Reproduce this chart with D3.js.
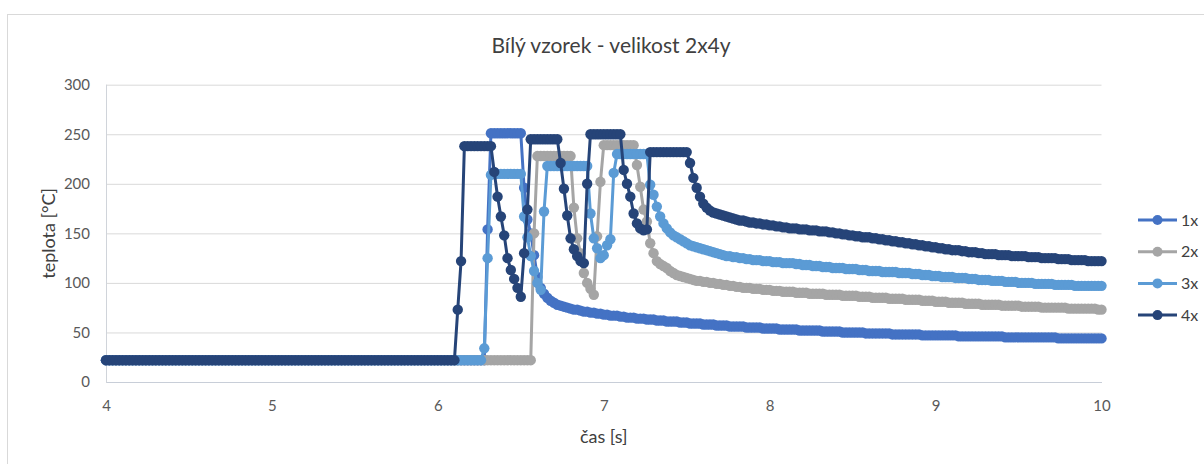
<!DOCTYPE html>
<html>
<head>
<meta charset="utf-8">
<title>Bílý vzorek - velikost 2x4y</title>
<script src="https://cdn.jsdelivr.net/npm/d3@7"></script>
<style>
  body { margin: 0; background: #fff; }
  svg { display: block; font-family: Lato, 'Open Sans', sans-serif; }
  .osa text { fill: #595959; font-size: 15px; font-family: Lato, sans-serif; }
  .mrizka line { stroke: #d9d9d9; stroke-width: 1px; }
  .popisek { fill: #404040; }
</style>
</head>
<body>
<svg id="graf" width="1204" height="464"></svg>
<script>
// --- data (teplota ve °C, vzorkovano po 0.02 s od 4 s do 10 s) ---
var casOd = 4, casKrok = 0.02;

// 4.00 - 5.98 s, vsechny rady stejne
var pocatek = [
  22,22,22,22,22,22,22,22,22,22, 22,22,22,22,22,22,22,22,22,22,
  22,22,22,22,22,22,22,22,22,22, 22,22,22,22,22,22,22,22,22,22,
  22,22,22,22,22,22,22,22,22,22, 22,22,22,22,22,22,22,22,22,22,
  22,22,22,22,22,22,22,22,22,22, 22,22,22,22,22,22,22,22,22,22,
  22,22,22,22,22,22,22,22,22,22, 22,22,22,22,22,22,22,22,22,22
];

var rada1x = pocatek.concat([
  // 6.00 - 7.80
  22,22,22,22,22, 22,22,22,22,22, 22,22,22,22,22,
  154,251,251,251,251, 251,251,251,251,251,
  251,196,164,150,128, 106,95,89,85,82,
  80,78,77,76,75, 74,73,73,72,71,
  71,70,70,69,69, 68,68,67,67,67,
  66,66,65,65,65, 64,64,64,63,63,
  63,62,62,62,61, 61,61,61,60,60,
  60,59,59,59,59, 58,58,58,58,57,
  57,57,57,56,56, 56,
  // 7.82 - 10.00
  56,56,55,55,55,55,
  55,54,54,54,54,54,53,53,53,53,
  53,53,52,52,52,52,52,52,52,51,
  51,51,51,51,51,50,50,50,50,50,
  50,50,49,49,49,49,49,49,49,49,
  48,48,48,48,48,48,48,48,48,47,
  47,47,47,47,47,47,47,47,47,47,
  46,46,46,46,46,46,46,46,46,46,
  46,46,46,46,45,45,45,45,45,45,
  45,45,45,45,45,45,45,45,45,45,
  44,44,44,44,44,44,44,44,44,44,
  44,44,44,44
]);

var rada2x = pocatek.concat([
  22,22,22,22,22, 22,22,22,22,22, 22,22,22,22,22, 22,22,22,22,22, 22,22,22,22,22,
  22,22,22,22,150,
  228,228,228,228,228, 228,228,228,228,228,
  228,176,145,130,110, 100,94,88,147,202,
  239,239,239,239,239, 239,239,239,239,239,
  219,197,174,162,140, 130,122,119,117,115,
  112,110,108,107,106, 105,104,103,102,102,
  101,101,100,100,99, 99,98,98,97,97,
  96,
  96,95,95,95,94,94,
  94,93,93,93,92,92,92,91,91,91,
  91,90,90,90,90,89,89,89,89,89,
  88,88,88,88,88,87,87,87,87,87,
  86,86,86,86,85,85,85,85,85,84,
  84,84,84,84,83,83,83,83,83,82,
  82,82,82,81,81,81,81,80,80,80,
  80,80,79,79,79,79,79,78,78,78,
  78,78,78,77,77,77,77,77,77,76,
  76,76,76,76,76,75,75,75,75,75,
  75,75,75,74,74,74,74,74,74,74,
  74,74,73,73
]);

var rada3x = pocatek.concat([
  22,22,22,22,22, 22,22,22,22,22,
  22,22,22,22,34,
  125,209,210,210,210, 210,210,210,210,210,
  210,167,146,127,112, 100,93,172,218,218,
  218,218,218,218,218, 218,218,218,218,218,
  218,170,145,135,125, 128,138,144,211,230,
  230,230,230,230,230, 230,230,230,230,199,
  189,177,167,160,155, 151,148,146,144,142,
  140,138,137,136,135, 134,133,132,131,130,
  129,128,127,127,126, 126,
  125,125,124,124,123,123,
  123,122,122,122,121,121,121,120,120,120,
  120,119,119,118,118,118,117,117,117,116,
  116,116,115,115,115,115,114,114,114,114,
  113,113,113,112,112,112,112,111,111,111,
  111,111,110,110,110,110,109,109,109,108,
  108,108,107,107,107,106,106,106,106,105,
  105,105,105,104,104,104,103,103,103,103,
  102,102,102,102,101,101,101,101,100,100,
  100,100,100,99,99,99,99,99,99,98,
  98,98,98,98,98,97,97,97,97,97,
  97,97,97,97
]);

var rada4x = pocatek.concat([
  22,22,22,22,22, 22,73,122,238,238,
  238,238,238,238,238, 238,238,212,187,167,
  148,125,113,104,95, 86,130,174,245,245,
  245,245,245,245,245, 245,245,221,195,168,
  145,134,127,122,120, 200,250,250,250,250,
  250,250,250,250,250, 250,214,200,187,170,
  160,155,153,154,232, 232,232,232,232,232,
  232,232,232,232,232, 232,221,206,196,187,
  180,176,173,171,170, 169,168,167,166,165,
  164,
  163,163,162,161,161,160,
  160,159,159,158,158,157,157,156,156,155,
  155,155,154,154,154,153,153,153,152,152,
  152,151,151,150,150,149,149,148,148,147,
  147,146,146,146,145,145,144,144,143,143,
  142,142,141,141,140,140,139,139,138,138,
  137,137,136,136,135,135,134,134,133,133,
  133,132,132,131,131,131,130,130,129,129,
  129,129,128,128,128,128,127,127,127,127,
  127,126,126,126,126,125,125,125,125,125,
  124,124,124,124,123,123,123,123,123,122,
  122,122,122,122
]);

var nazvyRad = ["1x", "2x", "3x", "4x"];
var barvyRad = ["#4472C4", "#A5A5A5", "#5B9BD5", "#264478"];
var tickyY = [0, 50, 100, 150, 200, 250, 300];
var tickyX = [4, 5, 6, 7, 8, 9, 10];

// --- kresleni ---
var svg = d3.select("#graf");
var levo = 106, pravo = 1101.5, nahore = 84.7, dole = 382;

var x = d3.scaleLinear().domain([4, 10]).range([levo, pravo]);
var y = d3.scaleLinear().domain([0, 300]).range([dole, nahore]);

var cas = d3.range(rada1x.length).map(function(i) { return casOd + i * casKrok; });
var rady = [rada1x, rada2x, rada3x, rada4x].map(function(r, k) {
  return { nazev: nazvyRad[k], barva: barvyRad[k],
           body: r.map(function(v, i) { return { t: cas[i], v: v }; }) };
});

// ramecek grafu
svg.append("rect")
    .attr("x", 7.5).attr("y", 14.5)
    .attr("width", 1300).attr("height", 500)
    .attr("fill", "none").attr("stroke", "#d9d9d9");

svg.append("text")
    .attr("x", 611).attr("y", 53)
    .attr("text-anchor", "middle")
    .attr("class", "popisek")
    .style("font-size", "21px")
    .text("Bílý vzorek - velikost 2x4y");

// osa y + mrizka
svg.append("g")
    .attr("class", "osa mrizka")
    .attr("transform", "translate(" + levo + ",0)")
    .call(d3.axisLeft(y).tickValues(tickyY).tickSize(-(pravo - levo)).tickPadding(16))
    .call(function(g) { g.select(".domain").remove(); });

svg.append("line")
    .attr("x1", levo + 0.5).attr("x2", levo + 0.5)
    .attr("y1", nahore).attr("y2", dole)
    .attr("stroke", "#d0d4da");

svg.append("g")
    .attr("class", "osa")
    .attr("transform", "translate(0," + dole + ")")
    .call(d3.axisBottom(x).tickValues(tickyX).tickSize(0).tickPadding(18).tickFormat(d3.format("d")))
    .call(function(g) { g.select(".domain").attr("stroke", "#c8ced8"); });

svg.append("text")
    .attr("transform", "translate(55," + ((nahore + dole) / 2) + ") rotate(-90)")
    .attr("text-anchor", "middle")
    .attr("class", "popisek")
    .style("font-size", "18px")
    .text("teplota [°C]");

svg.append("text")
    .attr("x", (levo + pravo) / 2).attr("y", 443)
    .attr("text-anchor", "middle")
    .attr("class", "popisek")
    .style("font-size", "18px")
    .text("čas [s]");

// rady
var cara = d3.line()
    .x(function(d) { return x(d.t); })
    .y(function(d) { return y(d.v); });

var skupiny = svg.selectAll(".rada")
    .data(rady)
    .enter().append("g")
    .attr("class", "rada");

skupiny.append("path")
    .attr("d", function(d) { return cara(d.body); })
    .attr("fill", "none")
    .attr("stroke", function(d) { return d.barva; })
    .attr("stroke-width", 3)
    .attr("stroke-linejoin", "round");

skupiny.each(function(r) {
  d3.select(this).selectAll("circle")
      .data(r.body)
      .enter().append("circle")
      .attr("cx", function(d) { return x(d.t); })
      .attr("cy", function(d) { return y(d.v); })
      .attr("r", 5.2)
      .attr("fill", r.barva);
});

// legenda
var legenda = svg.selectAll(".legenda")
    .data(rady)
    .enter().append("g")
    .attr("class", "legenda")
    .attr("transform", function(d, i) { return "translate(1138," + (220 + i * 31.7) + ")"; });

legenda.append("line")
    .attr("x1", 0).attr("x2", 39)
    .attr("stroke", function(d) { return d.barva; })
    .attr("stroke-width", 3);

legenda.append("circle")
    .attr("cx", 19.5).attr("r", 5)
    .attr("fill", function(d) { return d.barva; });

legenda.append("text")
    .attr("x", 43).attr("dy", "0.35em")
    .attr("class", "popisek")
    .style("font-size", "16px")
    .text(function(d) { return d.nazev; });
</script>
</body>
</html>
